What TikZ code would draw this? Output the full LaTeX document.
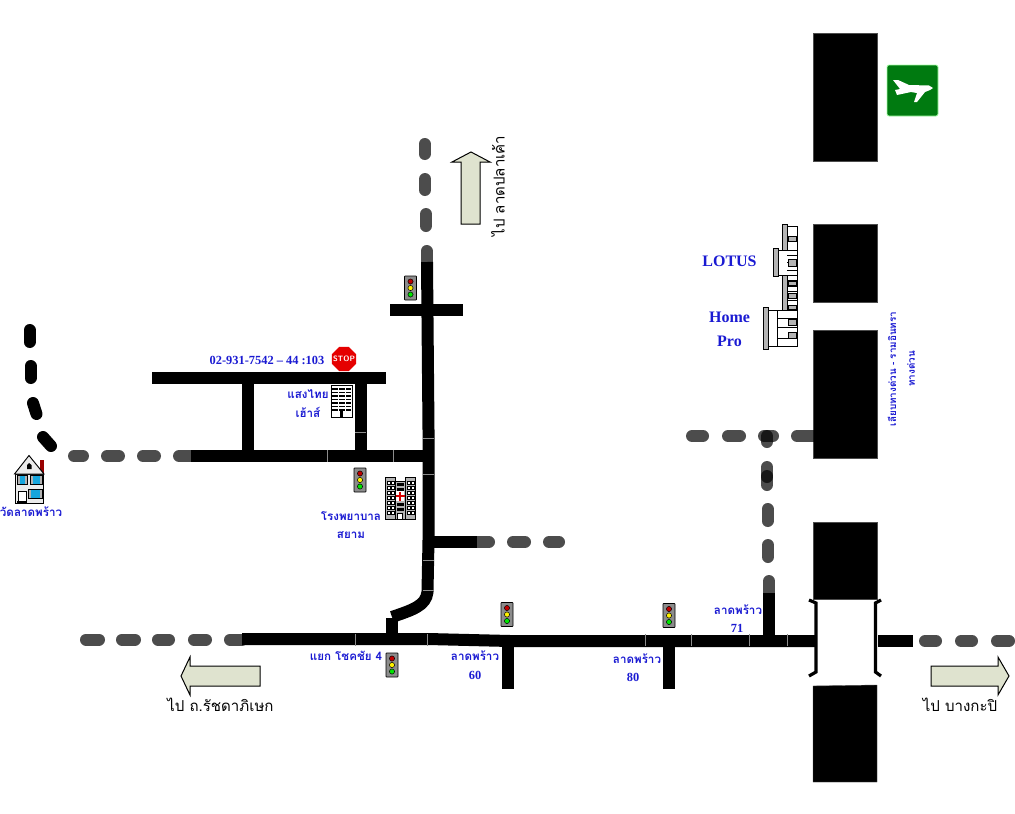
\documentclass[tikz,border=0pt]{standalone}
\usepackage{fontspec}
\setmainfont{Liberation Serif}
\newfontfamily\thaifont[Script=Thai]{Loma}
\usetikzlibrary{shapes.geometric}
\definecolor{lblblue}{HTML}{1A1AD2}
\definecolor{arrowfill}{HTML}{DFE3CF}
\definecolor{signgreen}{HTML}{007A10}
\definecolor{tlgray}{HTML}{8C8C8C}
\definecolor{bldgray}{HTML}{B4B4B4}
\tikzset{
  road/.style={line width=9pt,black},
  roadseam/.style={line width=0.4pt,black!45},
  gapdash/.style={line width=9pt,black,opacity=.7,line cap=round},
  blackdash/.style={line width=9pt,black,line cap=round},
  block/.style={fill=black,draw=black!70,line width=.3pt},
  bigarrow/.style={fill=arrowfill,draw=black,line width=.75pt,line join=miter},
  bluethai/.style={text=lblblue,font=\thaifont\bfseries\fontsize{8.7}{10}\selectfont,inner sep=0pt},
  sidethai/.style={text=lblblue,font=\thaifont\bfseries\fontsize{7.4}{9}\selectfont,inner sep=0pt},
  bluelat/.style={text=lblblue,font=\bfseries\fontsize{9.3}{11}\selectfont,inner sep=0pt},
  bigblue/.style={text=lblblue,font=\bfseries\fontsize{12}{14}\selectfont,inner sep=0pt},
  blackthai/.style={text=black,font=\thaifont\fontsize{11.3}{13}\selectfont,inner sep=0pt},
  bw/.style={draw=black,fill=white,line width=.6pt},
  gbar/.style={draw=black,fill=bldgray,line width=.5pt},
  pics/tlight/.style={code={
    \filldraw[fill=tlgray,draw=black,line width=.5pt,rounded corners=.5pt] (-6,-12) rectangle (6,12);
    \filldraw[fill=red!75!black,draw=black,line width=.35pt] (0,-6.5) circle (2.6);
    \filldraw[fill=yellow,draw=black,line width=.35pt] (0,0) circle (2.6);
    \filldraw[fill=green!90!black,draw=black,line width=.35pt] (0,6.5) circle (2.6);
  }}
}
\begin{document}
\begin{tikzpicture}[x=0.75pt,y=-0.75pt]
\useasboundingbox (0,0) rectangle (1015,814);
% big road blocks
\foreach \a/\b in {33/161,224/302,330/458,522/599}
  \draw[block] (813,\a) rectangle (877,\b);
\draw[block] (813,686) -- (877,685) -- (877,782) -- (813,782) -- cycle;
% main roads
\draw[road] (242,639) -- (428,639) -- (510,641) -- (816,641);
\draw[road] (878,641) -- (913,641);
\draw[road] (508,641) -- (508,689);
\draw[road] (669,641) -- (669,689);
\draw[road] (769,641) -- (769,593);
\draw[road] (427,262) -- (428.5,430) -- (428.5,540) -- (427.5,592)
   .. controls (426,606) and (412,610) .. (392,617);
\draw[road] (391.5,618) -- (391.5,639);
\draw[road] (390,310) -- (463,310);
\draw[road] (191,456) -- (428,456);
\draw[road] (152,378) -- (386,378);
\draw[road] (248,378) -- (248,456);
\draw[road] (360.5,378) -- (360.5,456);
\draw[road] (428,542) -- (477,542);
% seams
\foreach \x in {355,427,645,691,749,787}
  \draw[roadseam] (\x,634) -- (\x,646);
\foreach \x in {327,393}
  \draw[roadseam] (\x,450) -- (\x,462);
\draw[roadseam] (355,432) -- (366,432);
\foreach \y in {438,474,560,590}
  \draw[roadseam] (423,\y) -- (434,\y);
% grey dashes
\foreach \a/\b in {86/99,122/135,158/169,194/206,230/242}
  \draw[gapdash] (\a,639.5) -- (\b,639.5);
\foreach \a/\b in {925/936,961/972,997/1009}
  \draw[gapdash] (\a,641) -- (\b,641);
\foreach \a/\b in {74/83,107/119,143/155,179/191}
  \draw[gapdash] (\a,456) -- (\b,456);
\foreach \a/\b in {477/489,513/525,549/559}
  \draw[gapdash] (\a,542) -- (\b,542);
\draw[gapdash] (424.5,144) -- (424.5,154);
\draw[gapdash] (425,179) -- (425,190);
\draw[gapdash] (426,214) -- (426,226);
\draw[gapdash] (426.5,251) -- (426.5,262);
\foreach \a/\b in {692/703,728/740,764/773,797/813}
  \draw[gapdash] (\a,436) -- (\b,436);
\draw[gapdash] (767,436) -- (767,442);
\draw[gapdash] (767,467) -- (767,477);
\draw[gapdash] (767,476) -- (767,485);
\draw[gapdash] (767.5,509) -- (767.5,521);
\draw[gapdash] (768,545) -- (768,557);
\draw[gapdash] (769,581) -- (769,593);
% black dashes top left
\draw[blackdash] (29.5,330) -- (29.5,342);
\draw[blackdash] (30.5,366) -- (30.5,378);
\draw[blackdash] (33,403) -- (36.5,414);
\draw[blackdash] (43,437) -- (51,446);
% brackets
\draw[line width=2.4pt,line join=miter] (809,600) -- (816,603) -- (816,672) -- (809,676);
\draw[line width=2.4pt,line join=miter] (881,600) -- (875.5,603) -- (875.5,672) -- (881,676);
% arrows
\draw[bigarrow] (461,224) -- (461,162) -- (452,162) -- (471,152) -- (490,162) -- (480,162) -- (480,224) -- cycle;
\draw[bigarrow] (260,666) -- (190,666) -- (190,657) -- (181,676) -- (190,695) -- (190,686) -- (260,686) -- cycle;
\draw[bigarrow] (931,666) -- (998,666) -- (998,657) -- (1009,676) -- (998,695) -- (998,686) -- (931,686) -- cycle;
% traffic lights
\foreach \x/\y in {410.5/288,360/480,392/665,507/614.5,669/615.5}
  \pic at (\x,\y) {tlight};
% stop sign
\node[regular polygon,regular polygon sides=8,fill=red!90!black,minimum size=19.5pt,inner sep=0pt] (stopsign) at (344,359) {};
\node[inner sep=0pt,text=white,font=\sffamily\bfseries\fontsize{5.8}{7}\selectfont] (stoptext) at (stopsign.center) {STOP};
% house
\fill[red!60!black] (40,460) rectangle (44,476);
\filldraw[fill=black!8,draw=black,line width=.5pt] (15,474) rectangle (43,503);
\filldraw[fill=black!8,draw=black,line width=.7pt] (14.5,474) -- (29,455.5) -- (44,474) -- cycle;
\fill[black] (27,465) -- (29,463) -- (31.5,465) -- (31.5,469) -- (27,469) -- cycle;
\foreach \x/\w/\y in {17/10/475,30/12/475,28/14/489}{
  \filldraw[fill=black!30,draw=black,line width=.5pt] (\x,\y) rectangle ++(\w,9);
  \fill[cyan!90!black] (\x+2.5,\y+.5) rectangle ++(\w-5,8);
}
\filldraw[fill=white,draw=black,line width=.5pt] (18.5,491) rectangle (26,503);
\fill[black] (17,501) rectangle (27,504);
% tall building
\filldraw[fill=white,draw=black,line width=.6pt] (331,385) rectangle (352,417);
\foreach \y in {388,391.5,395,398.5,402,405.5,409}
  \fill[black] (332,\y) rectangle (351,\y+1.8);
\fill[white] (337.5,386) rectangle (338.2,411);
\fill[white] (345,386) rectangle (345.7,411);
\fill[black] (340,411) rectangle (343,417);
% hospital
\filldraw[fill=bldgray,draw=black,line width=.5pt] (395,481) rectangle (405,519);
\filldraw[fill=bldgray,draw=black,line width=.5pt] (385,477) rectangle (395,519);
\filldraw[fill=bldgray,draw=black,line width=.5pt] (405,477) rectangle (415,519);
\foreach \y in {481,486,491,496,501,506,511}{
  \foreach \x in {387,391,407,411}
    \filldraw[fill=white,draw=black,line width=.3pt] (\x,\y) rectangle ++(3,2.8);
}
\foreach \y in {483,488,503,508}{
  \fill[black] (396.5,\y) rectangle (403.5,\y+2.5);
}
\fill[white] (396,491) rectangle (404,501);
\fill[red!85!black] (399,491.5) rectangle (401,500.5);
\fill[red!85!black] (395.5,495) rectangle (404.5,497);
\filldraw[fill=white,draw=black,line width=.3pt] (397.5,513) rectangle (402.5,519);
% Lotus / Home Pro building
\draw[bw] (787,226) rectangle (797,310);
\draw[bw] (778,250) rectangle (797,275);
\draw[bw] (768,310) rectangle (797,346);
\draw[black,line width=.5pt] (777,310) -- (777,346);
\draw[gbar] (782.5,224) rectangle (787,250);
\draw[gbar] (782.5,275) rectangle (787,310);
\draw[gbar] (773.5,248) rectangle (778,276);
\draw[gbar] (763.5,307) rectangle (768,349);
\foreach \y in {255,262,270,280,286,291,300}
  \draw[black,line width=.5pt] (787,\y) -- (797,\y);
\foreach \y in {318,327,338}
  \draw[black,line width=.5pt] (777,\y) -- (797,\y);
\foreach \y/\h in {236/5,259/7,281/4,293/5,305/4,319/6,332/6}
  \draw[gbar] (788,\y) rectangle (796,\y+\h);
% airplane sign
\filldraw[fill=signgreen,draw=green!35!white,line width=.6pt,rounded corners=1.5pt] (887,65) rectangle (938,116);
\fill[white] (933,88) -- (929,85.5) -- (909,85) -- (898,80) -- (893,80) -- (900,89) -- (895,90) -- (897,95)
  -- (911,92) -- (917,93) -- (914,102) -- (917,102) -- (925,92) -- (930,90) -- cycle;
% labels
\node[bluelat] (phone) at (267,360) {02-931-7542 – 44 :103};
\node[bluethai] (sangthai) at (308,394) {แสงไทย};
\node[bluethai] (house) at (308,412) {เฮ้าส์};
\node[bluethai] (hosp1) at (351,516) {โรงพยาบาล};
\node[bluethai] (hosp2) at (351,535) {สยาม};
\node[bluethai] (wat) at (31,512) {วัดลาดพร้าว};
\node[bluethai] (chok) at (346,656) {แยก โชคชัย 4};
\node[bluethai] (s60a) at (475,656) {ลาดพร้าว};
\node[bluelat] (s60b) at (475,675) {60};
\node[bluethai] (s80a) at (637,659) {ลาดพร้าว};
\node[bluelat] (s80b) at (633,677) {80};
\node[bluethai] (s71a) at (738,610) {ลาดพร้าว};
\node[bluelat] (s71b) at (737,628) {71};
\node[bigblue] (lotus) at (729.5,261) {LOTUS};
\node[bigblue] (home) at (729.5,317) {Home};
\node[bigblue] (pro) at (729.5,341) {Pro};
\node[sidethai,rotate=90] (exp1) at (892,369) {เลียบทางด่วน - รามอินทรา};
\node[sidethai,rotate=90] (exp2) at (911,369) {ทางด่วน};
\node[blackthai] (rat) at (220.5,705) {ไป ถ.รัชดาภิเษก};
\node[blackthai] (bkp) at (960,705) {ไป บางกะปิ};
\node[blackthai,rotate=90] (lpl) at (498,186) {ไป ลาดปลาเค้า};
\end{tikzpicture}
\end{document}
